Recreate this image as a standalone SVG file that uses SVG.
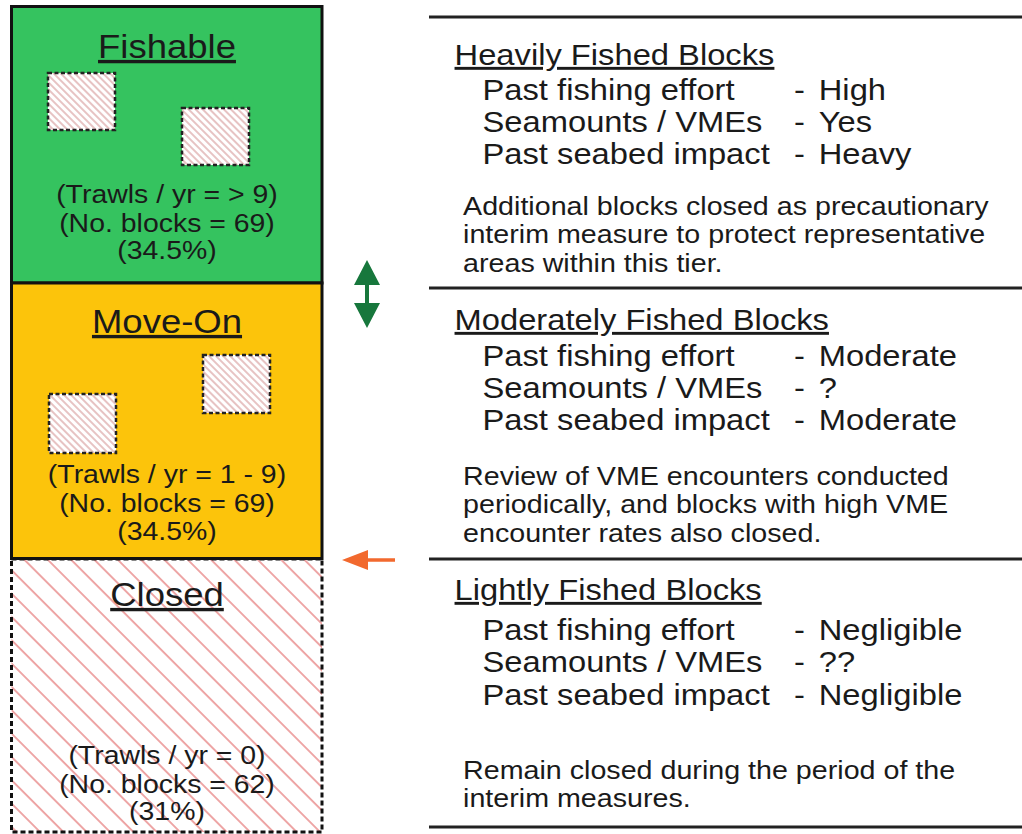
<svg xmlns="http://www.w3.org/2000/svg" width="1022" height="834" viewBox="0 0 1022 834">
<defs>
<style>
text{font-family:"Liberation Sans",Arial,sans-serif;fill:#1a1a1a}
.lt{font-size:33.5px;text-anchor:middle;text-decoration:underline}
.lb{font-size:26.1px;text-anchor:middle}
.rt{font-size:29.2px;text-decoration:underline}
.rl{font-size:29.2px}
.rp{font-size:25.6px}
.tier{stroke:#111;stroke-width:3}
.sq{fill:url(#fine);stroke:#222;stroke-width:2.5;stroke-dasharray:4 2.5}
.sep{stroke:#222;stroke-width:3}
</style>
<pattern id="fine" width="5" height="5" patternUnits="userSpaceOnUse" patternTransform="rotate(-45)">
<rect width="5" height="5" fill="#fff"/>
<line x1="1" y1="0" x2="1" y2="5" stroke="#cf8888" stroke-width="1"/>
</pattern>
<pattern id="wide" width="16.5" height="16.5" patternUnits="userSpaceOnUse" patternTransform="rotate(-45)">
<rect width="16.5" height="16.5" fill="#fff"/>
<line x1="1" y1="0" x2="1" y2="16.5" stroke="#d83c3c" stroke-width="0.9"/>
</pattern>
</defs>
<rect width="1022" height="834" fill="#fff"/>

<g id="closed">
<rect x="11.5" y="559" width="310.5" height="273" fill="url(#wide)" stroke="#111" stroke-width="3" stroke-dasharray="5 3"/>
<g transform="matrix(1.09,0,0,1,-15.03,0)">
<text class="lt" x="167" y="606">Closed</text>
<text class="lb" x="167" y="764">(Trawls / yr = 0)</text>
<text class="lb" x="167" y="793">(No. blocks = 62)</text>
<text class="lb" x="167" y="820">(31%)</text>
</g>
</g>

<g id="fishable">
<rect class="tier" x="11.5" y="6.5" width="310.5" height="276.5" fill="#35c35f"/>
<rect class="sq" x="48" y="73" width="67" height="57"/>
<rect class="sq" x="182" y="108" width="67" height="57"/>
<g transform="matrix(1.09,0,0,1,-15.03,0)">
<text class="lt" x="167" y="58">Fishable</text>
<text class="lb" x="167" y="203">(Trawls / yr = &gt; 9)</text>
<text class="lb" x="167" y="232">(No. blocks = 69)</text>
<text class="lb" x="167" y="259">(34.5%)</text>
</g>
</g>

<g id="move-on">
<rect class="tier" x="11.5" y="283" width="310.5" height="275.5" fill="#fcc40b"/>
<rect class="sq" x="203" y="355" width="67" height="58"/>
<rect class="sq" x="49" y="394" width="67" height="59"/>
<g transform="matrix(1.09,0,0,1,-15.03,0)">
<text class="lt" x="167" y="333">Move-On</text>
<text class="lb" x="167" y="483">(Trawls / yr = 1 - 9)</text>
<text class="lb" x="167" y="512">(No. blocks = 69)</text>
<text class="lb" x="167" y="540">(34.5%)</text>
</g>
</g>

<g id="connectors">
<polygon points="367,260 380,285 369,285 369,303 380,303 367,328 354,303 365,303 365,285 354,285" fill="#17773c"/>
<polygon points="342,560 368,550 368,558.3 395,558.3 395,561.7 368,561.7 368,570" fill="#f2692e"/>
</g>

<g id="separators">
<line class="sep" x1="429" y1="17" x2="1022" y2="17"/>
<line class="sep" x1="429" y1="288" x2="1022" y2="288"/>
<line class="sep" x1="429" y1="559" x2="1022" y2="559"/>
<line class="sep" x1="429" y1="827" x2="1022" y2="827"/>
</g>

<g id="heavy" transform="matrix(1.12,0,0,1,-54.84,0)">
<text class="rt" x="454.8" y="65">Heavily Fished Blocks</text>
<text class="rl" x="479.8" y="100">Past fishing effort</text>
<text class="rl" x="758" y="100">-</text>
<text class="rl" x="780" y="100">High</text>
<text class="rl" x="479.8" y="132">Seamounts / VMEs</text>
<text class="rl" x="758" y="132">-</text>
<text class="rl" x="780" y="132">Yes</text>
<text class="rl" x="479.8" y="164">Past seabed impact</text>
<text class="rl" x="758" y="164">-</text>
<text class="rl" x="780" y="164">Heavy</text>
<text class="rp" x="462.4" y="215">Additional blocks closed as precautionary</text>
<text class="rp" x="462.4" y="243">interim measure to protect representative</text>
<text class="rp" x="462.4" y="272">areas within this tier.</text>
</g>

<g id="moderate" transform="matrix(1.12,0,0,1,-54.84,0)">
<text class="rt" x="454.8" y="330">Moderately Fished Blocks</text>
<text class="rl" x="479.8" y="366">Past fishing effort</text>
<text class="rl" x="758" y="366">-</text>
<text class="rl" x="780" y="366">Moderate</text>
<text class="rl" x="479.8" y="398">Seamounts / VMEs</text>
<text class="rl" x="758" y="398">-</text>
<text class="rl" x="780" y="398">?</text>
<text class="rl" x="479.8" y="430">Past seabed impact</text>
<text class="rl" x="758" y="430">-</text>
<text class="rl" x="780" y="430">Moderate</text>
<text class="rp" x="462.4" y="485">Review of VME encounters conducted</text>
<text class="rp" x="462.4" y="513.5">periodically, and blocks with high VME</text>
<text class="rp" x="462.4" y="542">encounter rates also closed.</text>
</g>

<g id="light" transform="matrix(1.12,0,0,1,-54.84,0)">
<text class="rt" x="454.8" y="600">Lightly Fished Blocks</text>
<text class="rl" x="479.8" y="640">Past fishing effort</text>
<text class="rl" x="758" y="640">-</text>
<text class="rl" x="780" y="640">Negligible</text>
<text class="rl" x="479.8" y="672.5">Seamounts / VMEs</text>
<text class="rl" x="758" y="672.5">-</text>
<text class="rl" x="780" y="672.5">??</text>
<text class="rl" x="479.8" y="705">Past seabed impact</text>
<text class="rl" x="758" y="705">-</text>
<text class="rl" x="780" y="705">Negligible</text>
<text class="rp" x="462.4" y="779">Remain closed during the period of the</text>
<text class="rp" x="462.4" y="807">interim measures.</text>
</g>
</svg>
